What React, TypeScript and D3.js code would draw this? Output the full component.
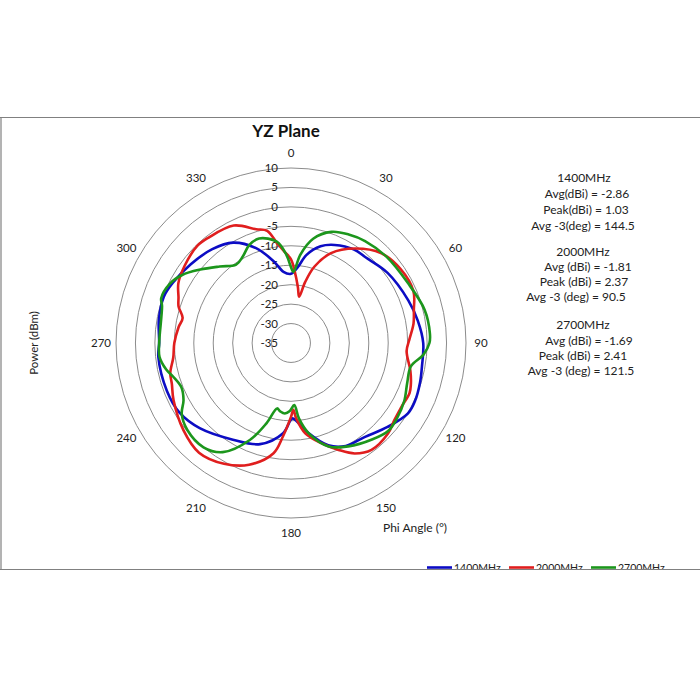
import { useMemo } from "react";
import { curveCatmullRomClosed, lineRadial, pointRadial, scaleLinear } from "d3";

const WIDTH = 700;
const HEIGHT = 700;
const CENTER = { x: 291, y: 343 };
const OUTER_R = 175;
const FONT = "Lato, 'Open Sans', sans-serif";

const ANGLE_TICKS = [0, 30, 60, 90, 120, 150, 180, 210, 240, 270, 300, 330];
const RADIAL_TICKS = [10, 5, 0, -5, -10, -15, -20, -25, -30, -35];
const SERIES_NAMES = ["1400MHz", "2000MHz", "2700MHz"];
const SERIES_COLORS = ["#0c0cc4", "#e01e1e", "#1c961c"];

// [phi deg, dB]
const PATTERN_1400: [number, number][] = [
  [0, -17.2], [5, -15.5], [10, -12], [17, -9], [24, -7.4], [34, -6], [41, -5.8],
  [54, -4.3], [70, -2.9], [80, -1.9], [90, -1], [100, -0.8], [107, -0.3], [115, 0.2],
  [121, 0.1], [131, -2.1], [142, -4.3], [152, -5], [160, -7], [169, -11.4], [175, -14.5],
  [179, -15.6], [185, -11.7], [197, -7.8], [211, -6], [227, -2.9], [238, -1.2], [249, -0.8],
  [264, -0.7], [270, -1.1], [280, -0.5], [290, -0.2], [297, -0.9], [308, -2.2], [320, -3.5],
  [330, -5.2], [340, -9.1], [348, -13.5], [354, -16.6],
];

const PATTERN_2000: [number, number][] = [
  [0, -13.5], [3, -16.6], [7, -20.5], [10, -22.9], [13, -19], [17, -14.5], [24, -9.7],
  [34, -5.7], [45, -2.3], [56, -1], [67, -0.8], [75, -2.3], [81, -3.1], [88, -4.5],
  [94, -5.2], [103, -3.5], [109, -2.4], [113, -1.9], [120, -2.2], [127, -1.8], [133, -0.9],
  [143, -0.6], [150, -2.2], [156, -4.9], [163, -8], [171, -11.5], [176, -15.5], [178, -17.8],
  [180, -16], [185, -10.8], [189, -6.3], [199, -1.9], [209, 0.5], [220, 1.8], [231, 0.6],
  [244, -1.4], [251, -2.6], [256, -3], [263, -4.5], [270, -5], [278, -5.8], [283, -6.4],
  [288, -4.6], [292, -3.8], [298, -2.2], [306, -1.2], [316, -0.3], [322, -0.6], [334, -1.4],
  [343, -4.4], [348, -5.5], [352, -9], [356, -11.5],
];

const PATTERN_2700: [number, number][] = [
  [0, -15.5], [2, -16.7], [6, -12.2], [12, -7.6], [20, -4.6], [28, -3.4], [36, -2.6],
  [48, -1.9], [63, -1.2], [76, 0.4], [86, 0.8], [90, 0.6], [95, -0.8], [101, -3.6],
  [109, -3.4], [117, -2.3], [125, -1.6], [132, -1.3], [140, -2.6], [151, -4.6], [160, -6.7],
  [169, -11.4], [174, -15.5], [177, -19], [181, -17.5], [185, -16.8], [189, -17.2], [192, -17.8],
  [197, -13.4], [203, -7.9], [212, -1.9], [220, 0], [230, -0.2], [237, -1.5], [242, -3.7],
  [248, -4.6], [254, -3.5], [258, -2.2], [264, -1], [270, -1.1], [286, -0.5], [289, 0.3],
  [296, -0.3], [302, -2], [309, -5], [317, -8.1], [325, -10.4], [331, -9.5], [337, -7.6],
  [343, -6.9], [352, -8.7], [357, -12.3],
];

const STATS_LINES = [
  "1400MHz", "Avg(dBi) = -2.86", "Peak(dBi) = 1.03", "Avg -3(deg) = 144.5",
  "2000MHz", "Avg (dBi) =  -1.81", "Peak (dBi) =  2.37", "Avg -3 (deg) =  90.5",
  "2700MHz", "Avg (dBi) =  -1.69", "Peak (dBi) = 2.41", "Avg -3 (deg) = 121.5",
];
const STATS_X = [584, 587, 586, 583, 583, 588, 584, 576, 583, 589, 583, 581];
const STATS_Y = [178, 194, 210, 226, 252, 267, 282, 297, 325, 341, 356, 371];

export default function App() {
  const r = useMemo(() => scaleLinear().domain([-35, 10]).range([0, OUTER_R]), []);

  const pathGen = lineRadial<[number, number]>()
    .angle((d) => (d[0] * Math.PI) / 180)
    .radius((d) => r(d[1]))
    .curve(curveCatmullRomClosed.alpha(0.5));

  const series = [PATTERN_1400, PATTERN_2000, PATTERN_2700];

  return (
    <svg
      width={WIDTH}
      height={HEIGHT}
      style={{ position: "absolute", left: 0, top: 0, background: "#fff" }}
      fontFamily={FONT}
    >
      <defs>
        <clipPath id="frameClip">
          <rect x={0} y={117} width={WIDTH} height={452} />
        </clipPath>
      </defs>

      {/* chart frame */}
      <g stroke="#808080" strokeWidth={1.2} fill="none">
        <line x1={0} y1={117.5} x2={WIDTH} y2={117.5} />
        <line x1={1} y1={117} x2={1} y2={570} />
        <line x1={0} y1={569.5} x2={WIDTH} y2={569.5} />
      </g>

      <text x={286} y={137} textAnchor="middle" fontSize={17} fontWeight="bold" fill="#111">
        YZ Plane
      </text>

      <g transform={`translate(${CENTER.x},${CENTER.y})`}>
        {RADIAL_TICKS.filter((v) => v > -35).map((v) => (
          <circle key={v} r={r(v)} fill="none" stroke="#8c8c8c" strokeWidth={1} />
        ))}

        {RADIAL_TICKS.map((v) => (
          <text
            key={v}
            x={-13}
            y={-r(v)}
            dy="0.35em"
            textAnchor="end"
            fontSize={11.5}
            fill="#222"
          >
            {v}
          </text>
        ))}

        {ANGLE_TICKS.map((a) => {
          const [x, y] = pointRadial((a * Math.PI) / 180, 190);
          return (
            <text key={a} x={x} y={y} dy="0.35em" textAnchor="middle" fontSize={11.5} fill="#222">
              {a}
            </text>
          );
        })}

        {series.map((s, i) => (
          <path
            key={SERIES_NAMES[i]}
            d={pathGen(s) ?? undefined}
            fill="none"
            stroke={SERIES_COLORS[i]}
            strokeWidth={2.6}
            strokeLinejoin="round"
          />
        ))}
      </g>

      <text
        transform="translate(38,343) rotate(-90)"
        textAnchor="middle"
        fontSize={11.5}
        fill="#222"
      >
        Power (dBm)
      </text>
      <text x={383} y={532} fontSize={12} fill="#222">
        Phi Angle (°)
      </text>

      {STATS_LINES.map((t, i) => (
        <text key={i} x={STATS_X[i]} y={STATS_Y[i]} dy="0.35em" textAnchor="middle" fontSize={12} fill="#222">
          {t}
        </text>
      ))}

      <g clipPath="url(#frameClip)">
        {SERIES_NAMES.map((name, i) => {
          const x0 = 427 + i * 82;
          return (
            <g key={name}>
              <line x1={x0} y1={567.5} x2={x0 + 25} y2={567.5} stroke={SERIES_COLORS[i]} strokeWidth={2.6} />
              <text x={x0 + 27} y={572} fontSize={10.5} fill="#222">
                {name}
              </text>
            </g>
          );
        })}
      </g>
    </svg>
  );
}
